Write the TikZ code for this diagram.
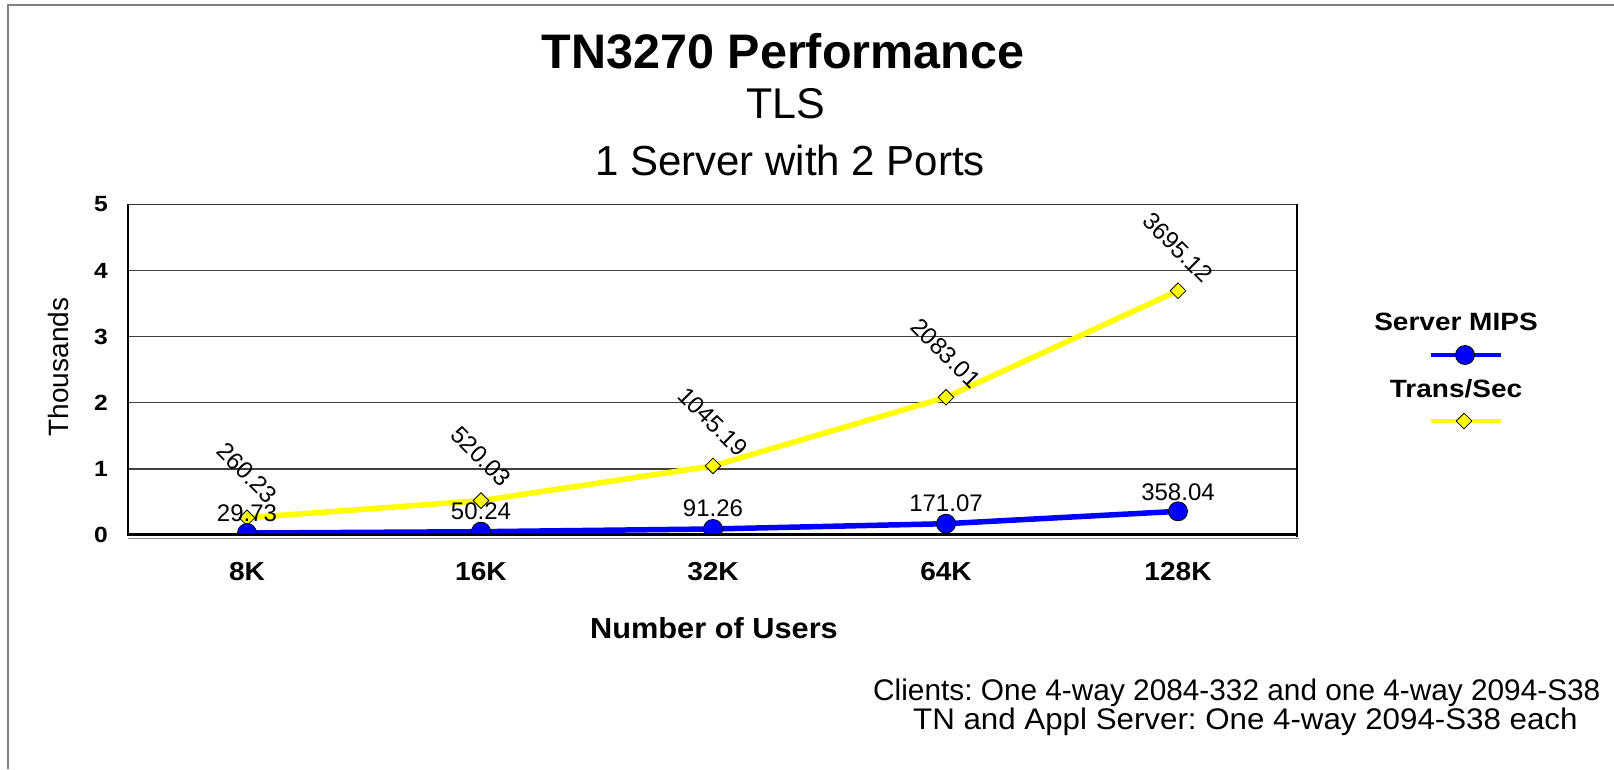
\documentclass[tikz,border=0pt]{standalone}
\usepackage{fontspec}
\setmainfont{Liberation Sans}
\usetikzlibrary{shapes.geometric}
\definecolor{serblue}{RGB}{0,0,255}
\definecolor{tyellow}{RGB}{255,255,0}
\definecolor{framegray}{RGB}{128,128,128}
\begin{document}
\frenchspacing
\begin{tikzpicture}[x=1pt,y=-1pt,
  fs/.style={font=\fontsize{#1}{#1}\selectfont},
  fsb/.style={font=\fontsize{#1}{#1}\selectfont\bfseries},
  bluemark/.style={circle,draw=black,line width=0.8pt,fill=serblue,minimum size=19pt,inner sep=0pt},
  yelmark/.style={diamond,draw=black,line width=0.8pt,fill=tyellow,minimum width=16pt,minimum height=16pt,inner sep=0pt,aspect=1},
  blueline/.style={draw=serblue,line width=5.5pt},
  yelline/.style={draw=tyellow,line width=5.5pt},
  grid line/.style={draw=black!75,line width=1.2pt},
  lbl/.style={inner sep=0pt},
  bluelbl/.style={fs=24,inner sep=0pt,anchor=base},
  yellbl/.style={fs=24,inner sep=0pt,anchor=center,rotate=-45},
  ytick/.style={fsb=22,inner sep=0pt,anchor=east},
  xtick/.style={fsb=26,inner sep=0pt,anchor=center},
]
\useasboundingbox (0,0) rectangle (1614,769);
% outer frame (left and top edges visible)
\draw[draw=framegray,line width=2pt] (8,769) -- (8,5) -- (1614,5);

% titles
\node[fsb=48.5,lbl,anchor=base] (title) at (783,68) {TN3270 Performance};
\node[fs=43,lbl,anchor=base] (sub1) at (786,118) {TLS};
\node[fs=42,lbl,anchor=base] (sub2) at (790,175) {1 Server with 2 Ports};

% grid lines
\foreach \v in {1,2,3,4} {
  \draw[grid line] (128,{535-66.1*\v}) -- (1297,{535-66.1*\v});
}

% data coordinates
\coordinate (b1) at (247,{535-0.0661*29.73});
\coordinate (b2) at (481,{535-0.0661*50.24});
\coordinate (b3) at (713,{535-0.0661*91.26});
\coordinate (b4) at (946,{535-0.0661*171.07});
\coordinate (b5) at (1178,{535-0.0661*358.04});
\coordinate (t1) at (247,{535-0.0661*260.23});
\coordinate (t2) at (481,{535-0.0661*520.03});
\coordinate (t3) at (713,{535-0.0661*1045.19});
\coordinate (t4) at (946,{535-0.0661*2083.01});
\coordinate (t5) at (1178,{535-0.0661*3695.12});

\begin{scope}
\clip (128,200) rectangle (1297,533.5);
% series lines
\draw[yelline,line join=round] (t1) -- (t2) -- (t3) -- (t4) -- (t5);
\draw[blueline,line join=round] (b1) -- (b2) -- (b3) -- (b4) -- (b5);
% markers
\foreach \i in {1,...,5} {
  \node[yelmark] (tm\i) at (t\i) {};
}
\foreach \i in {1,...,5} {
  \node[bluemark] (bm\i) at (b\i) {};
}
\end{scope}

% plot frame
\draw[draw=black!80,line width=1.5pt] (128,204.5) -- (1297,204.5);
\draw[draw=black,line width=1.5pt] (1297,204) -- (1297,537);
\draw[draw=black!45,line width=1.5pt] (128,538.5) -- (1299,538.5);
\draw[draw=black,line width=2.5pt] (128,204) -- (128,535);
\draw[draw=black,line width=3pt] (127,534.5) -- (1297,534.5);

% y ticks
\foreach \v in {0,1,2,3,4,5} {
  \node[ytick] (yt\v) at (108,{535-66.1*\v}) {\scalebox{1.12}[1]{\v}};
}
\node[fs=28,lbl,rotate=90,anchor=center] (ylab) at (58,367) {Thousands};

% x ticks
\node[xtick] (x1) at (247,572) {\scalebox{1.08}[1]{8K}};
\node[xtick] (x2) at (481,572) {\scalebox{1.08}[1]{16K}};
\node[xtick] (x3) at (713,572) {\scalebox{1.08}[1]{32K}};
\node[xtick] (x4) at (946,572) {\scalebox{1.08}[1]{64K}};
\node[xtick] (x5) at (1178,572) {\scalebox{1.08}[1]{128K}};
\node[fsb=29,lbl,anchor=center] (xlab) at (714,628) {\scalebox{1.06}[1]{Number of Users}};

% data labels
\node[yellbl] (tl1) at ([yshift=45pt]t1) {260.23};
\node[yellbl] (tl2) at ([yshift=44pt]t2) {520.03};
\node[yellbl] (tl3) at ([yshift=44pt]t3) {1045.19};
\node[yellbl] (tl4) at ([yshift=44pt]t4) {2083.01};
\node[yellbl] (tl5) at ([yshift=43pt]t5) {3695.12};
\node[bluelbl] (bl1) at ([yshift=12pt]b1) {29.73};
\node[bluelbl] (bl2) at ([yshift=12pt]b2) {50.24};
\node[bluelbl] (bl3) at ([yshift=12pt]b3) {91.26};
\node[bluelbl] (bl4) at ([yshift=12pt]b4) {171.07};
\node[bluelbl] (bl5) at ([yshift=11pt]b5) {358.04};

% legend
\node[fsb=25,lbl,anchor=base] (leg1) at (1456,330) {\scalebox{1.12}[1]{Server MIPS}};
\coordinate (lb1) at (1431,355);
\coordinate (lb2) at (1501,355);
\draw[blueline,line width=4.5pt] (lb1) -- (lb2);
\node[bluemark] (lbm) at (1465,355) {};
\node[fsb=25,lbl,anchor=base] (leg2) at (1456,397) {\scalebox{1.12}[1]{Trans/Sec}};
\coordinate (ly1) at (1431,421);
\coordinate (ly2) at (1501,421);
\draw[yelline,line width=4.5pt] (ly1) -- (ly2);
\node[yelmark] (lym) at (1464,421) {};

% notes
\node[fs=29.8,lbl,anchor=base west] (note1) at (873,700) {Clients: One 4-way 2084-332 and one 4-way 2094-S38};
\node[fs=29.8,lbl,anchor=base west] (note2) at (913,729) {\scalebox{1.05}[1]{TN and Appl Server: One 4-way 2094-S38 each}};
\end{tikzpicture}
\end{document}
